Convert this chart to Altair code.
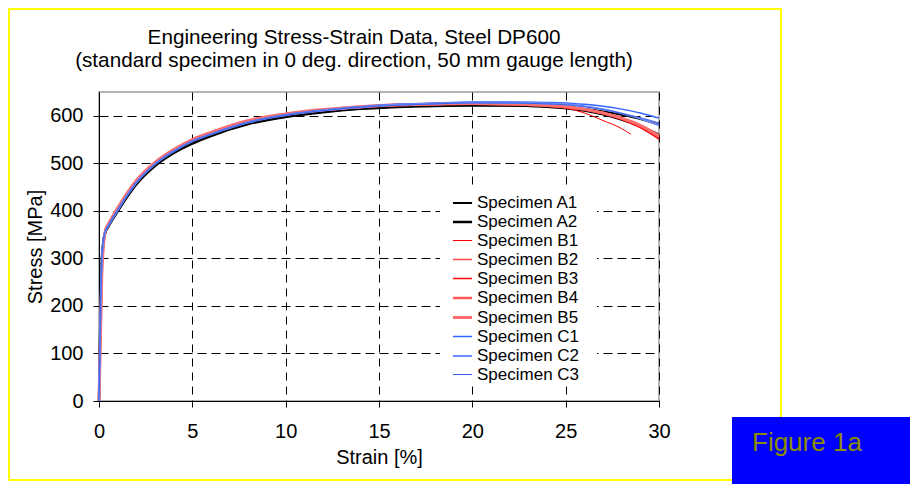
import altair as alt
import pandas as pd

FONT = "Liberation Sans"

TITLE_LINES = [
    "Engineering Stress-Strain Data, Steel DP600",
    "(standard specimen in 0 deg. direction, 50 mm gauge length)",
]
FIGURE_LABEL = "Figure 1a"
X_TITLE = "Strain [%]"
Y_TITLE = "Stress [MPa]"
X_TICKS = [0, 5, 10, 15, 20, 25, 30]
Y_TICKS = [0, 100, 200, 300, 400, 500, 600]

SPECIMENS = ["Specimen A1", "Specimen A2", "Specimen B1", "Specimen B2", "Specimen B3",
             "Specimen B4", "Specimen B5", "Specimen C1", "Specimen C2", "Specimen C3"]
COLORS = ["#000000", "#000000", "#ff0000", "#ff4a4a", "#ff0000",
          "#ff5a5a", "#ff6e6e", "#3366ff", "#6d8dff", "#3d62e6"]
WIDTHS = [2, 2.5, 1, 1.5, 1.5, 2.5, 3, 1.5, 2, 1]

STRAIN = [0, 0.15, 0.25, 0.35, 0.5, 1, 1.5, 2, 3, 4, 5, 6, 8, 10, 12, 14, 16, 18,
          20, 22, 24, 25, 26, 27, 28, 29, 30]
STRAIN_B1 = [0, 0.15, 0.25, 0.35, 0.5, 1, 1.5, 2, 3, 4, 5, 6, 8, 10, 12, 14, 16, 18,
             20, 22, 24, 25, 26, 27, 28, 28.5]

A1 = [0, 290, 338, 355, 366, 398, 428, 455, 494, 521, 541, 557, 582, 597, 607, 614, 618, 620,
      621, 621, 619, 617, 614, 609, 602, 593, 581]
A2 = [0, 295, 340, 357, 368, 400, 430, 457, 496, 523, 543, 559, 584, 599, 609, 616, 620, 622,
      623, 622, 619, 616, 611, 603, 592, 578, 560]
B1 = [0, 262, 330, 358, 371, 405, 436, 463, 501, 528, 549, 564, 589, 603, 612, 618, 622, 624,
      625, 624, 620, 616, 606, 590, 573, 561]
B2 = [0, 270, 334, 359, 371, 404, 435, 462, 500, 527, 548, 563, 588, 602, 611, 617, 621, 623,
      624, 623, 620, 617, 612, 604, 593, 577, 555]
B3 = [0, 265, 332, 360, 372, 406, 437, 464, 502, 529, 550, 565, 590, 603, 612, 618, 622, 624,
      625, 624, 621, 617, 612, 604, 592, 575, 551]
B4 = [0, 275, 335, 359, 371, 405, 436, 463, 501, 528, 549, 564, 589, 603, 612, 619, 623, 625,
      626, 625, 622, 619, 614, 606, 595, 579, 556]
B5 = [0, 268, 333, 360, 372, 406, 437, 464, 502, 529, 550, 565, 590, 604, 613, 619, 623, 625,
      626, 625, 622, 619, 614, 606, 595, 580, 558]
C1 = [0, 300, 342, 358, 369, 402, 433, 460, 499, 526, 547, 562, 587, 602, 612, 619, 624, 627,
      629, 629, 628, 627, 624, 620, 614, 606, 595]
C2 = [0, 298, 341, 357, 368, 401, 432, 459, 498, 525, 546, 561, 586, 601, 611, 618, 623, 626,
      628, 627, 626, 624, 620, 614, 605, 594, 580]
C3 = [0, 302, 343, 358, 369, 402, 432, 459, 498, 525, 546, 561, 586, 601, 611, 618, 622, 625,
      627, 627, 625, 623, 619, 613, 605, 596, 585]

SERIES = [
    ("Specimen A1", STRAIN, A1), ("Specimen A2", STRAIN, A2),
    ("Specimen B1", STRAIN_B1, B1), ("Specimen B2", STRAIN, B2),
    ("Specimen B3", STRAIN, B3), ("Specimen B4", STRAIN, B4),
    ("Specimen B5", STRAIN, B5), ("Specimen C1", STRAIN, C1),
    ("Specimen C2", STRAIN, C2), ("Specimen C3", STRAIN, C3),
]

rows = []
for name, xs, ys in SERIES:
    for xv, yv in zip(xs, ys):
        rows.append({"specimen": name, "strain": xv, "stress": yv})
df = pd.DataFrame(rows)

one = pd.DataFrame({"t": ["\n".join(TITLE_LINES)], "f": [FIGURE_LABEL]})

legend = alt.Legend(
    title=None, orient="none", legendX=352, legendY=100,
    symbolType="stroke", symbolSize=366, labelFont=FONT, labelFontSize=17,
    labelColor="black", rowPadding=0, labelOffset=3, padding=0,
)

lines = alt.Chart(df).mark_line(interpolate="monotone").encode(
    x=alt.X("strain:Q", scale=alt.Scale(domain=[0, 30], nice=False),
            axis=alt.Axis(values=X_TICKS, title=X_TITLE, gridDash=[8, 6],
                          labelPadding=14, titlePadding=6, labelFlush=False)),
    y=alt.Y("stress:Q", scale=alt.Scale(domain=[0, 650], nice=False),
            axis=alt.Axis(values=Y_TICKS, title=Y_TITLE, gridDash=[9, 5],
                          labelPadding=10, titlePadding=4, labelFlush=False)),
    color=alt.Color("specimen:N", scale=alt.Scale(domain=SPECIMENS, range=COLORS), legend=legend),
    strokeWidth=alt.StrokeWidth("specimen:N",
                                scale=alt.Scale(type="ordinal", domain=SPECIMENS, range=WIDTHS),
                                legend=legend),
    order=alt.Order("strain:Q"),
)

base = alt.Chart(one)

border = base.mark_rect(fillOpacity=0, stroke="#ffff00", strokeWidth=2).encode(
    x=alt.value(-90), x2=alt.value(682), y=alt.value(-83), y2=alt.value(388))

legend_bg = base.mark_rect(fill="white").encode(
    x=alt.value(341), x2=alt.value(498), y=alt.value(98), y2=alt.value(294))

title = base.mark_text(font=FONT, fontSize=20.7, color="black", align="center",
                       baseline="alphabetic", lineBreak="\n", lineHeight=23).encode(
    text="t:N", x=alt.value(255), y=alt.value(-48))

fig_box = base.mark_rect(fill="#0000ff").encode(
    x=alt.value(633), x2=alt.value(811), y=alt.value(325), y2=alt.value(392))

fig_text = base.mark_text(font=FONT, fontSize=26, color="#8c8c00", align="left",
                          baseline="middle").encode(
    text="f:N", x=alt.value(653), y=alt.value(351))

chart = alt.layer(border, legend_bg, lines, fig_box, fig_text, title).properties(
    width=560, height=309,
    padding={"left": 91, "top": 84, "right": 251, "bottom": 83},
    autosize=alt.AutoSizeParams(type="none"),
    background="white",
).configure_view(
    stroke="#b4b4b4", strokeWidth=2,
).configure_axis(
    domainColor="black", domainWidth=1, tickColor="black", tickSize=6,
    gridColor="black", gridWidth=1, gridOpacity=1,
    labelFont=FONT, labelFontSize=20, labelColor="black",
    titleFont=FONT, titleFontSize=20, titleFontWeight="normal", titleColor="black",
)

chart.save("out.html", embed_options={"renderer": "svg", "actions": False})
